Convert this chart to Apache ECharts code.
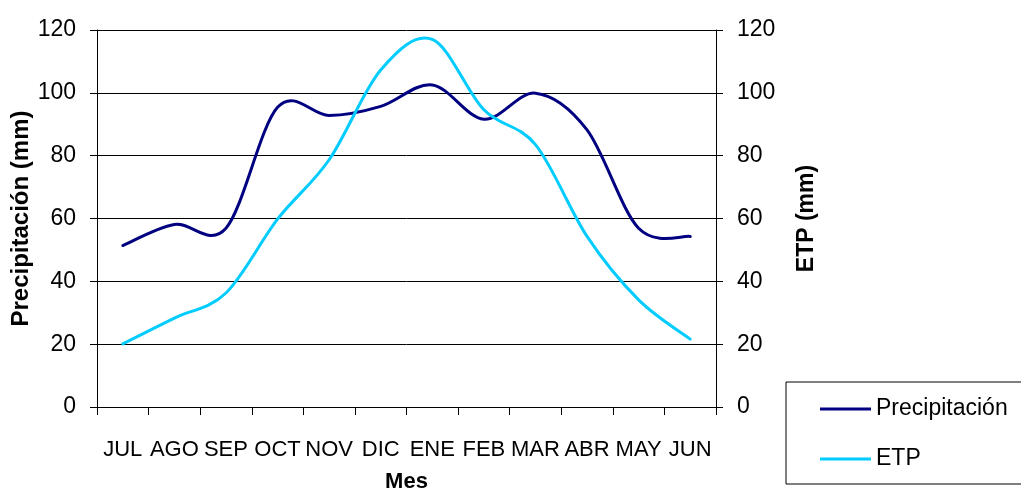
<!DOCTYPE html>
<html>
<head>
<meta charset="utf-8">
<script src="https://cdn.jsdelivr.net/npm/echarts@6/dist/echarts.min.js"></script>
<style>
  html, body { margin: 0; padding: 0; background: #fff; }
  #chart { width: 1021px; height: 491px; }
</style>
</head>
<body>
<div id="chart"></div>
<script>
// Monthly water balance: precipitation vs potential evapotranspiration (hydrological year Jul-Jun)
const months = ['JUL', 'AGO', 'SEP', 'OCT', 'NOV', 'DIC', 'ENE', 'FEB', 'MAR', 'ABR', 'MAY', 'JUN'];
const precipitacion = [51.4, 58.1, 56.9, 95.4, 92.8, 95.7, 102.5, 91.6, 99.9, 88.2, 56.9, 54.3];
const etp = [20.1, 28.3, 36.3, 59.8, 78.7, 107.3, 117.0, 94.6, 83.5, 54.3, 34.1, 21.6];
const yTicks = { min: 0, max: 120, interval: 20 };

const font = "'Liberation Sans', Arial, sans-serif";

// Smooth curve through the monthly points (cubic Bezier, Catmull-Rom style tangents)
function smoothCurve(values, color) {
  return function (params, api) {
    if (params.dataIndex !== 0) return null;
    const pts = values.map((v, i) => api.coord([i, v]));
    const n = pts.length;
    let d = 'M' + pts[0][0] + ' ' + pts[0][1];
    for (let i = 0; i < n - 1; i++) {
      const p0 = pts[Math.max(i - 1, 0)];
      const p1 = pts[i];
      const p2 = pts[i + 1];
      const p3 = pts[Math.min(i + 2, n - 1)];
      const c1x = p1[0] + (p2[0] - p0[0]) / 6;
      const c1y = p1[1] + (p2[1] - p0[1]) / 6;
      const c2x = p2[0] - (p3[0] - p1[0]) / 6;
      const c2y = p2[1] - (p3[1] - p1[1]) / 6;
      d += ' C' + c1x + ' ' + c1y + ' ' + c2x + ' ' + c2y + ' ' + p2[0] + ' ' + p2[1];
    }
    return {
      type: 'path',
      shape: { pathData: d },
      style: { fill: null, stroke: color, lineWidth: 3, lineJoin: 'round', lineCap: 'round' },
      silent: true
    };
  };
}

function curveSeries(name, values, color, yAxisIndex) {
  return {
    name: name,
    type: 'custom',
    yAxisIndex: yAxisIndex,
    data: values.map((v, i) => [i, v]),
    encode: { x: 0, y: 1 },
    itemStyle: { color: color },
    renderItem: smoothCurve(values, color)
  };
}

const chart = echarts.init(document.getElementById('chart'), null, { renderer: 'canvas' });

const yAxisBase = {
  type: 'value',
  min: yTicks.min,
  max: yTicks.max,
  interval: yTicks.interval,
  nameLocation: 'middle',
  nameMoveOverlap: false,
  axisLine: { show: true, lineStyle: { color: '#000', width: 1 } },
  axisTick: { show: true, inside: false, length: 7, lineStyle: { color: '#000' } },
  axisLabel: { fontFamily: font, fontSize: 23, color: '#000', margin: 21 }
};

chart.setOption({
  animation: false,
  backgroundColor: '#fff',
  grid: { left: 97, right: 305, top: 30, bottom: 84, containLabel: false, outerBoundsMode: 'none' },
  xAxis: {
    type: 'category',
    data: months,
    boundaryGap: true,
    name: 'Mes',
    nameLocation: 'middle',
    nameGap: 64,
    nameMoveOverlap: false,
    nameTextStyle: { fontFamily: font, fontWeight: 'bold', fontSize: 22, color: '#000' },
    axisLine: { lineStyle: { color: '#000', width: 1 } },
    axisTick: { show: true, length: 8, lineStyle: { color: '#000' } },
    axisLabel: { fontFamily: font, fontSize: 22, color: '#000', margin: 32, interval: 0 }
  },
  yAxis: [
    Object.assign({}, yAxisBase, {
      position: 'left',
      name: 'Precipitación (mm)',
      nameGap: 64,
      nameTextStyle: { fontFamily: font, fontWeight: 'bold', fontSize: 24, color: '#000' },
      splitLine: { show: true, lineStyle: { color: '#000', width: 1 } }
    }),
    Object.assign({}, yAxisBase, {
      position: 'right',
      name: 'ETP (mm)',
      nameGap: 79,
      nameRotate: 90,
      nameTextStyle: { fontFamily: font, fontWeight: 'bold', fontSize: 23, color: '#000' },
      splitLine: { show: false }
    })
  ],
  legend: {
    orient: 'vertical',
    left: 786,
    top: 382,
    padding: [12, 60, 10, 34],
    itemGap: 20,
    itemWidth: 51,
    itemHeight: 3,
    borderColor: '#000',
    borderWidth: 1,
    icon: 'rect',
    textStyle: { fontFamily: font, fontSize: 23, color: '#000', lineHeight: 30 },
    data: ['Precipitación', 'ETP']
  },
  series: [
    curveSeries('Precipitación', precipitacion, '#000080', 0),
    curveSeries('ETP', etp, '#00CCFF', 1)
  ]
});
</script>
</body>
</html>
